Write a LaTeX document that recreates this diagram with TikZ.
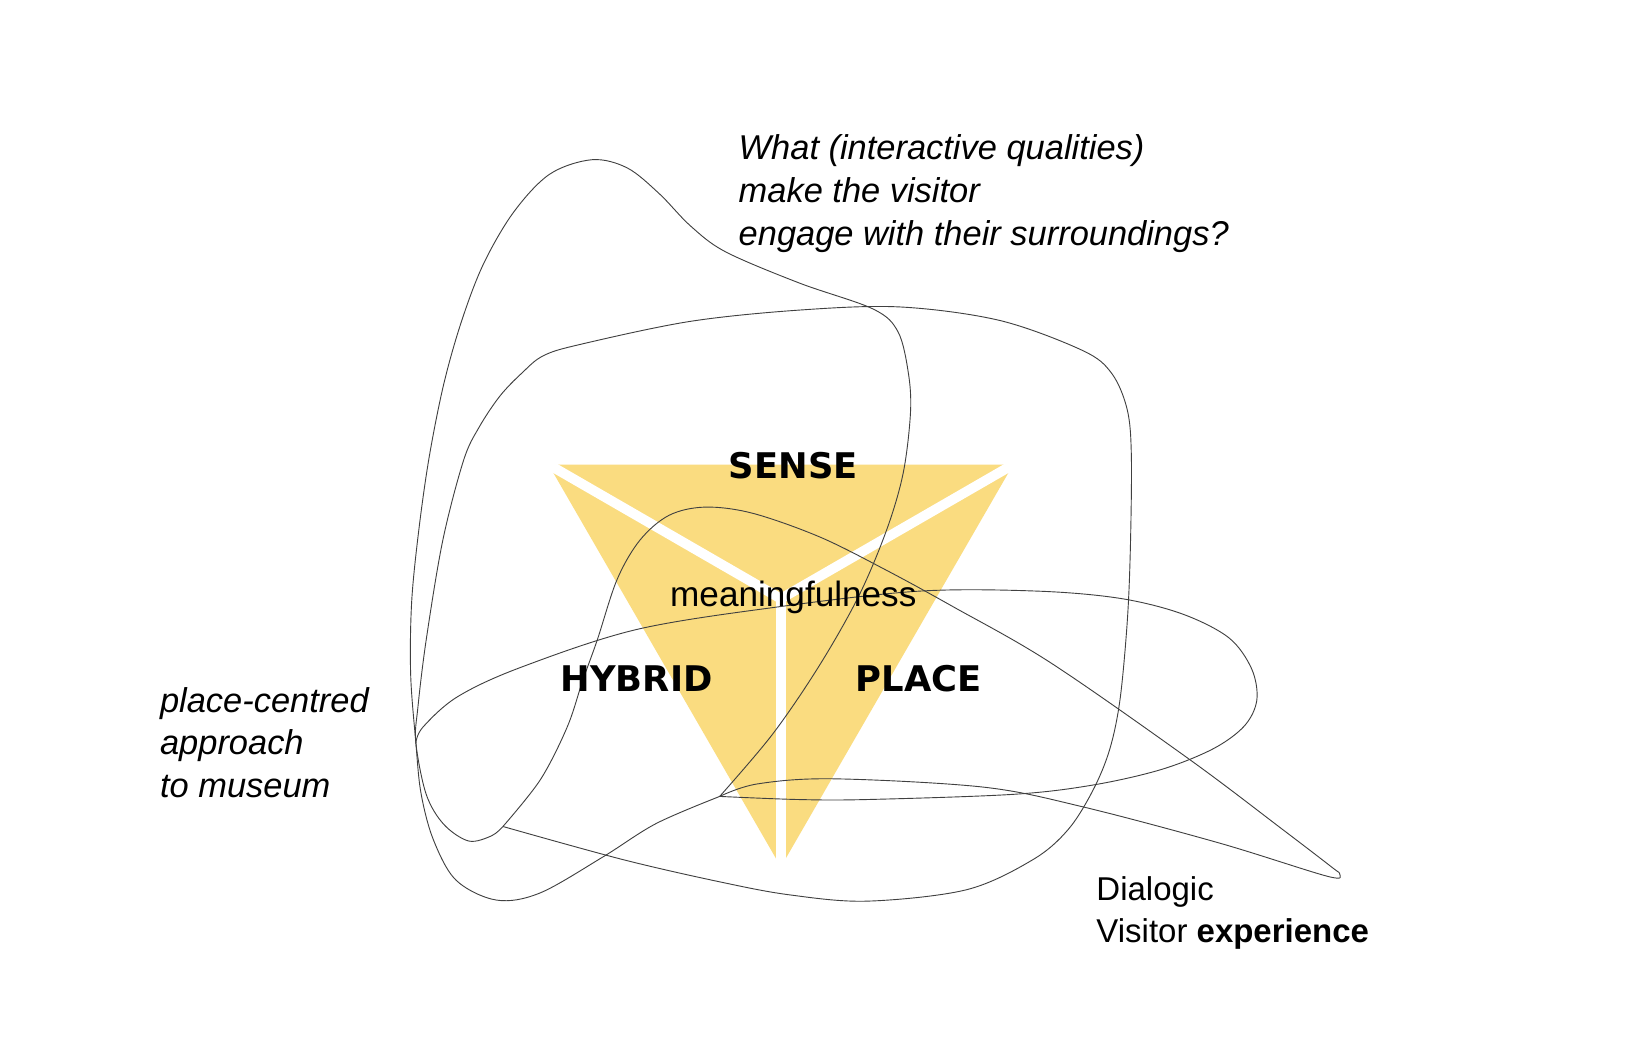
\documentclass[tikz,border=0pt]{standalone}
\usepackage{fontspec}
\setmainfont{Liberation Sans}
\newfontfamily\tagfont{DejaVu Sans}
\usetikzlibrary{positioning}
\usetikzlibrary{calc}

\definecolor{honey}{RGB}{250,220,128}

\tikzset{
  blobline/.style={draw=black!75, line width=0.5pt, smooth, tension=0.55},
  slit/.style={draw=white, line width=5.4pt, line cap=round},
  tag/.style={font=\tagfont\bfseries\fontsize{19.4pt}{23pt}\selectfont, inner sep=0pt, anchor=base},
  plain/.style={font=\fontsize{19.3pt}{23pt}\selectfont, inner sep=0pt, anchor=base},
  ask/.style={font=\itshape\fontsize{18.9pt}{23pt}\selectfont, inner sep=0pt, anchor=base west},
  dia/.style={font=\fontsize{18.1pt}{23pt}\selectfont, inner sep=0pt, anchor=base west}
}

\begin{document}
\begin{tikzpicture}[x=0.02cm, y=-0.02cm]
  \useasboundingbox (0,0) rectangle (1568,1022);
  \fill[white] (0,0) rectangle (1568,1022);

  % triangle with the three slits
  \coordinate (tl) at (529,448);
  \coordinate (tr) at (977,448);
  \coordinate (bt) at (753,836);
  \coordinate (ctr) at (753,577.3);
  \fill[honey] (tl) -- (tr) -- (bt) -- cycle;
  \foreach \v in {tl,tr,bt}
    \draw[slit] (ctr) -- ($(ctr)!1.06!(\v)$);

  % corners where the loops meet
  \coordinate (kneeA) at (694,768);
  \coordinate (kneeB) at (485,797);
  \coordinate (cross) at (401,716);
  \coordinate (tip) at (1292,843);

  % tall loop
  \draw[blobline] plot coordinates {(kneeA) (745,708) (790,642) (828,575) (855,511)
    (871,456) (878,398) (876,360) (866,320) (842,298) (771,273) (700,243) (666,218)
    (636,187) (605,162) (571,154) (530,168) (495,205) (466,255) (445,310) (428,370)
    (414,440) (404,510) (397,580) (396,650) (cross) (406,765) (418,810) (440,849)
    (479,868) (521,861) (582,826) (633,794) (kneeA)};

  % rounded frame
  \draw[blobline] plot coordinates {(kneeB) (601,829) (697,851) (762,863) (836,869)
    (932,858) (996,829) (1030,800) (1054,762) (1070,723) (1080,675) (1087,600)
    (1090,530) (1091,440) (1087,395) (1072,360) (1044,338) (964,309) (868,296)
    (771,299) (665,310) (560,332) (524,343) (503,360) (482,382) (462,412) (447,444)
    (427,521) (411,617) (403,682) (cross) (411,766) (428,795) (452,811) (474,806) (kneeB)};

  % hump and spike
  \draw[blobline] plot coordinates {(kneeB) (521,752) (547,701) (562,656) (576,617)
    (595,559) (617,521) (645,497) (680,489) (726,495) (791,518) (855,550) (919,585)
    (1013,639) (1148,733) (1237,800) (1284,836) (tip) (1280,845) (1176,813) (1044,778)
    (948,759) (803,751) (730,756) (kneeA)};

  % flat oval
  \draw[blobline] plot coordinates {(kneeA) (770,771) (836,771) (977,766) (1054,757)
    (1120,742) (1170,722) (1200,700) (1212,675) (1207,645) (1185,615) (1140,592)
    (1080,577) (1000,570) (887,570) (752,585) (614,607) (501,644) (441,672) (408,701) (cross)};

  % labels
  \node[tag] (sense) at (765,461) {SENSE};
  \node[tag] (hybrid) at (614,667) {HYBRID};
  \node[tag] (place) at (886,667) {PLACE};
  \node[plain] (meaning) at (765,585) {meaningfulness};

  \node[ask] (ask1) at (712,154) {What (interactive qualities)};
  \node[ask, below=0.83cm of ask1.base west, anchor=base west] (ask2) {make the visitor};
  \node[ask, below=0.83cm of ask2.base west, anchor=base west] (ask3) {engage with their surroundings?};

  \node[ask] (app1) at (154,687) {place-centred};
  \node[ask, below=0.82cm of app1.base west, anchor=base west] (app2) {approach};
  \node[ask, below=0.82cm of app2.base west, anchor=base west] (app3) {to museum};

  \node[dia] (dia1) at (1057,868) {Dialogic};
  \node[dia, below=0.82cm of dia1.base west, anchor=base west] (dia2) {Visitor \textbf{experience}};
\end{tikzpicture}
\end{document}
